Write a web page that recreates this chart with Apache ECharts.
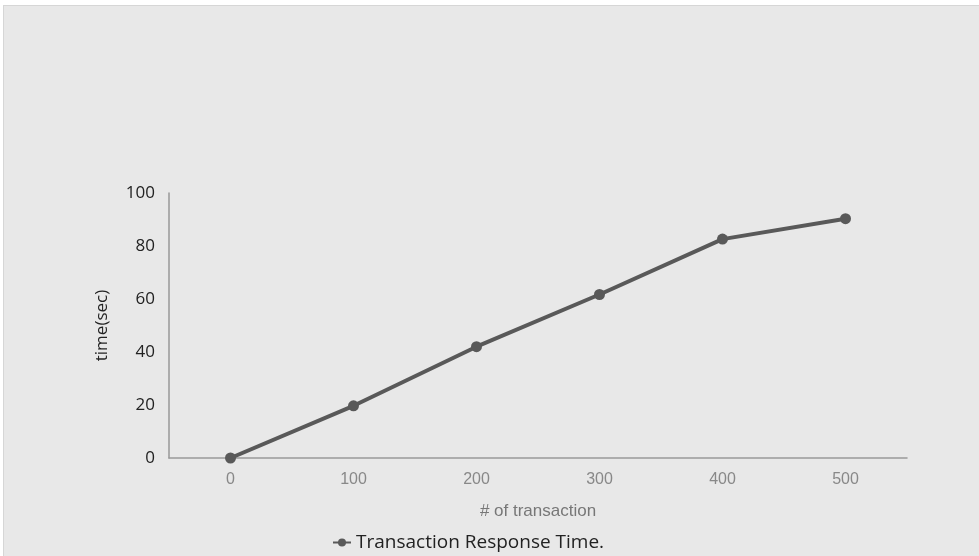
<!DOCTYPE html>
<html>
<head>
<meta charset="utf-8">
<script src="https://cdn.jsdelivr.net/npm/echarts@6/dist/echarts.min.js"></script>
<style>
  html, body { margin: 0; padding: 0; background: #ffffff; }
  #chart { position: absolute; left: 3px; top: 5px; width: 976px; height: 551px;
           border-top: 1px solid #d6d6d6; border-left: 1px solid #d6d6d6; box-sizing: border-box; }
</style>
</head>
<body>
<div id="chart"></div>
<script>
// x categories (# of transaction)
const transactions = ['0', '100', '200', '300', '400', '500'];
// response time in seconds
const responseTime = [0, 19.7, 42, 61.7, 82.6, 90.3];
const yTicks = { min: 0, max: 100, interval: 20 };

const myChart = echarts.init(document.getElementById('chart'));

const option = {
    backgroundColor: '#e8e8e8',
    animation: false,
    grid: { left: 165, right: 72, top: 187, bottom: 98 },
    legend: {
        left: 323,
        top: 522,
        itemWidth: 18,
        itemHeight: 10,
        itemGap: 10,
        textStyle: { color: '#222', fontSize: 19, fontFamily: 'Open Sans' },
        data: ['Transaction Response Time.']
    },
    xAxis: {
        type: 'category',
        data: transactions,
        name: '# of transaction',
        nameLocation: 'middle',
        nameGap: 45,
        nameTextStyle: { color: '#777', fontSize: 17, fontFamily: 'Liberation Sans' },
        axisLine: { lineStyle: { color: '#999', width: 1.5 } },
        axisTick: { show: false },
        axisLabel: { color: '#888', fontSize: 16, fontFamily: 'Liberation Sans', margin: 14 }
    },
    yAxis: {
        type: 'value',
        min: yTicks.min,
        max: yTicks.max,
        interval: yTicks.interval,
        name: 'time(sec)',
        nameLocation: 'middle',
        nameGap: 58,
        nameTextStyle: { color: '#222', fontSize: 17, fontFamily: 'Open Sans' },
        axisLine: { show: true, lineStyle: { color: '#999', width: 1.5 } },
        axisTick: { show: false },
        splitLine: { show: false },
        axisLabel: { color: '#222', fontSize: 17, fontFamily: 'Open Sans', margin: 14 }
    },
    series: [{
        name: 'Transaction Response Time.',
        type: 'line',
        data: responseTime,
        symbol: 'circle',
        symbolSize: 11,
        lineStyle: { color: '#595959', width: 4 },
        itemStyle: { color: '#595959' }
    }]
};

myChart.setOption(option);
</script>
</body>
</html>
